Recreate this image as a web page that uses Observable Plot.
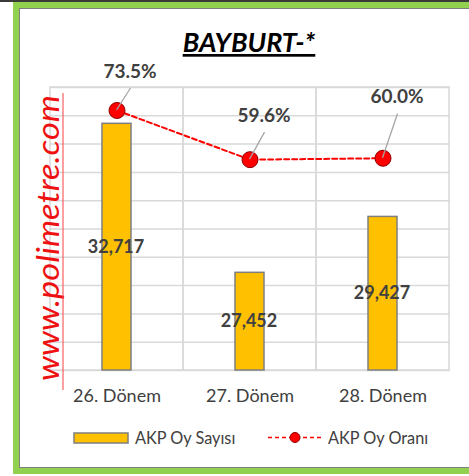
<!DOCTYPE html>
<html><head><meta charset="utf-8">
<script src="https://cdn.jsdelivr.net/npm/d3@7"></script>
<script src="https://cdn.jsdelivr.net/npm/@observablehq/plot@0.6"></script>
<style>
html,body{margin:0;padding:0;background:#fff;width:469px;height:476px;overflow:hidden;font-family:Lato,"Open Sans",sans-serif;}
#topline{position:absolute;left:0;top:0;width:469px;height:2px;background:#3a3a3a;}
#frame{position:absolute;left:13px;top:2px;width:500px;height:472px;border:6px solid #92d050;box-sizing:border-box;}
#inner{position:absolute;left:0;top:0;right:0;bottom:0;border:1.5px solid #7f7f7f;}
#chart{position:absolute;left:0;top:0;}
</style>
</head><body>
<div id="topline"></div>
<div id="frame"><div id="inner"></div></div>
<div id="chart"></div>
<script>
const title = "BAYBURT-*";
const periods = ["26. Dönem", "27. Dönem", "28. Dönem"];
const votes = [32717, 27452, 29427];
const shares = [73.5, 59.6, 60.0];
const voteDomain = [24000, 34000];
const shareDomain = [0, 80];
const voteTicks = d3.range(24000, 34001, 1000);
const seriesNames = ["AKP Oy Sayısı", "AKP Oy Oranı"];
const watermark = "www.polimetre.com";

const rows = periods.map((p, i) => ({period: p, votes: votes[i], share: shares[i]}));
const shareToVotes = d3.scaleLinear(shareDomain, voteDomain);
const fmtVotes = d3.format(",");
const fmtShare = d => d3.format(".1f")(d) + "%";
const textColor = "#404040";

// per-label offsets (manual label placement as in the original)
const labelOffsets = [[13, -39], [14, -44], [14, -61]];

const labelMarks = rows.map((r, i) => Plot.text([r], {
  x: "period", y: d => shareToVotes(d.share), text: d => fmtShare(d.share),
  dx: labelOffsets[i][0], dy: labelOffsets[i][1],
  fontSize: 19, fontWeight: "bold", fill: textColor
}));

const plot = Plot.plot({
  width: 469, height: 476,
  marginLeft: 49, marginRight: 19, marginTop: 87, marginBottom: 106,
  style: {fontFamily: "Lato, sans-serif", color: textColor, background: "transparent", overflow: "visible"},
  x: {domain: periods, padding: 0, label: null},
  y: {domain: voteDomain, axis: null},
  marks: [
    Plot.gridY(voteTicks, {stroke: "#d9d9d9", strokeOpacity: 1, strokeWidth: 1.5}),
    Plot.cell(periods, {x: d => d, fill: "none", stroke: "#d9d9d9", strokeWidth: 1.5}),
    Plot.axisX({tickSize: 0, tickPadding: 19, fontSize: 18, label: null, fill: textColor}),
    Plot.barY(rows, {x: "period", y1: voteDomain[0], y2: "votes", fill: "#ffc000", stroke: "#7f7f7f", strokeWidth: 1.5, insetLeft: 52, insetRight: 52}),
    Plot.text(rows, {x: "period", y: d => (voteDomain[0] + d.votes) / 2, text: d => fmtVotes(d.votes), fontSize: 18, fontWeight: "bold", fill: textColor, dx: -1}),
    Plot.line(rows, {x: "period", y: d => shareToVotes(d.share), stroke: "#ff0000", strokeWidth: 2, strokeDasharray: "5,3"}),
    Plot.dot(rows, {x: "period", y: d => shareToVotes(d.share), r: 8, fill: "#ff0000", stroke: "#8b0000", strokeWidth: 1, symbol: "circle"}),
    ...labelMarks
  ]
});
document.getElementById("chart").appendChild(plot);

const svg = d3.select(plot);
const sx = plot.scale("x"), sy = plot.scale("y");
// leader lines from points toward labels
rows.forEach((r, i) => {
  const cx = sx.apply(r.period) + sx.bandwidth / 2;
  const cy = sy.apply(shareToVotes(r.share));
  svg.append("line")
    .attr("x1", cx).attr("y1", cy)
    .attr("x2", cx + labelOffsets[i][0] + 1).attr("y2", cy + labelOffsets[i][1] + 17)
    .attr("stroke", "#a6a6a6").attr("stroke-width", 1.3);
});

// title
svg.append("text").attr("x", 249).attr("y", 52).attr("text-anchor", "middle")
  .attr("font-size", 27).attr("font-weight", "bold").attr("font-style", "italic")
  .attr("fill", "#000").attr("text-decoration", "underline").text(title);

// watermark
const wm = svg.append("g").attr("transform", "translate(59,238) rotate(-90)");
wm.append("text").attr("x", 0).attr("y", 0).attr("text-anchor", "middle")
  .attr("font-size", 30).attr("font-style", "italic").attr("fill", "#ee1111")
  .attr("textLength", 286).attr("lengthAdjust", "spacingAndGlyphs").text(watermark);
svg.append("line").attr("x1", 63).attr("x2", 63).attr("y1", 93).attr("y2", 390)
  .attr("stroke", "#ff4040").attr("stroke-width", 1);

// legend
const lg = svg.append("g").attr("text-anchor", "start");
lg.append("rect").attr("x", 74).attr("y", 433).attr("width", 54).attr("height", 10)
  .attr("fill", "#ffc000").attr("stroke", "#7f7f7f").attr("stroke-width", 1.5);
lg.append("text").attr("x", 135).attr("y", 444).attr("font-size", 16.3).attr("fill", textColor).text(seriesNames[0]);
lg.append("line").attr("x1", 268).attr("x2", 322).attr("y1", 437.5).attr("y2", 437.5)
  .attr("stroke", "#ff0000").attr("stroke-width", 1.5).attr("stroke-dasharray", "4,3");
lg.append("circle").attr("cx", 295).attr("cy", 437.5).attr("r", 5).attr("fill", "#ff0000").attr("stroke", "#8b0000").attr("stroke-width", 1);
lg.append("text").attr("x", 328).attr("y", 444).attr("font-size", 16.3).attr("fill", textColor).text(seriesNames[1]);
</script>
</body></html>
